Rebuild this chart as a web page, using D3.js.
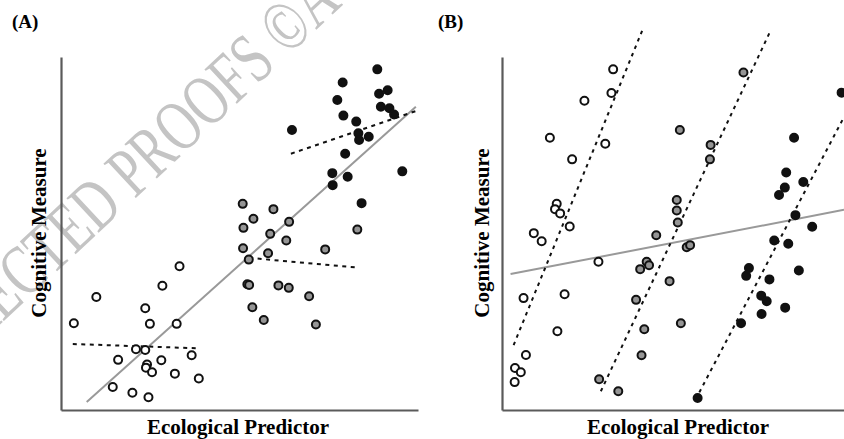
<!DOCTYPE html>
<html>
<head>
<meta charset="utf-8">
<script src="https://cdn.jsdelivr.net/npm/d3@7"></script>
<style>
  html, body { margin: 0; padding: 0; background: #fff; }
  svg { display: block; }
</style>
</head>
<body>
<script>
// ---------- DATA (arbitrary units, 0-100 on both axes) ----------
const panelLabels = ["(A)", "(B)"];
const xAxisLabel = "Ecological Predictor";
const yAxisLabel = "Cognitive Measure";
const watermarkText = "UNCORRECTED PROOFS ©";
const watermarkTail = " A";

// Panel A
const whiteA = [[3.6,24.6],[9.9,32.0],[23.6,28.8],[28.4,35.2],[33.2,40.7],[24.9,24.4],[32.4,24.4],
  [21.0,17.2],[23.6,17.0],[16.0,14.2],[24.1,12.9],[23.8,12.0],[25.5,10.7],[28.1,14.1],[36.6,15.5],
  [31.9,10.3],[38.6,8.9],[14.5,6.5],[20.0,4.9],[24.5,3.6]];
const grayA = [[50.9,58.4],[53.9,54.2],[59.5,56.9],[63.9,53.3],[51.1,51.6],[58.6,49.9],[63.1,48.0],
  [83.0,51.1],[51.0,45.8],[58.0,44.4],[74.0,45.5],[52.6,42.6],[52.2,35.6],[52.7,35.4],[60.9,35.3],
  [63.8,34.6],[69.5,32.2],[53.6,29.1],[56.8,25.5],[71.4,24.2]];
const blackA = [[88.6,96.5],[78.9,92.8],[89.1,89.6],[91.5,90.6],[77.4,87.8],[89.6,85.9],[92.0,85.5],
  [93.3,83.7],[79.1,83.4],[82.7,81.7],[64.7,79.3],[83.3,78.4],[86.2,77.4],[83.5,76.5],[79.6,72.6],
  [76.0,67.1],[80.3,66.1],[95.6,67.6],[76.1,63.7],[84.2,58.6]];
// fitted lines: [x0, y0, x1, y1]
const overallA = [7.2, 2.3, 99.4, 85.9];
const groupLinesA = [[3.3,18.7,37.8,17.5],[52.7,43.1,83.5,40.3],[64.4,72.6,99.4,84.7]];

// Panel B
const whiteB = [[32.5,96.5],[32.0,89.8],[24.1,87.6],[14.0,77.1],[30.2,75.4],[20.5,71.0],[16.0,58.4],
  [15.5,56.9],[17.0,55.7],[19.8,52.0],[9.3,50.1],[11.6,47.8],[28.2,42.0],[6.3,31.7],[18.3,32.8],
  [16.2,22.3],[7.0,15.6],[3.8,11.9],[5.5,10.7],[3.7,7.9]];
const grayB = [[70.6,95.6],[52.0,79.3],[61.0,75.1],[60.8,71.0],[51.1,59.5],[51.1,56.5],[51.4,53.1],
  [45.1,49.5],[54.0,46.1],[55.0,46.7],[42.3,42.0],[43.0,41.0],[40.4,39.9],[49.0,36.5],[39.2,31.2],
  [41.6,22.9],[52.3,24.6],[40.8,15.5],[28.4,8.7],[34.0,5.3]];
const blackB = [[99.3,89.9],[85.4,77.1],[83.1,67.3],[88.1,64.6],[82.7,63.0],[81.0,60.9],[85.8,55.2],
  [90.7,51.9],[79.6,48.0],[83.7,47.1],[72.2,40.2],[71.4,38.0],[78.2,37.0],[86.8,39.5],[75.8,32.4],
  [77.4,30.8],[82.8,29.0],[75.9,27.2],[69.9,24.6],[57.2,3.4]];
const overallB = [2.5, 38.5, 100, 56.7];
const groupLinesB = [[3.4,18.4,41.0,107.5],[28.9,5.3,78.4,107.2],[57.7,5.0,100,83.0]];

// ---------- DRAWING ----------
const W = 844, H = 439;
const FONT = "'Liberation Serif', 'Times New Roman', Times, serif";
const svg = d3.select("body").append("svg").attr("width", W).attr("height", H);

// watermark
const wm = svg.append("g").attr("transform", "translate(316,30) rotate(-43) scale(0.72,1)");
wm.append("text").attr("x", 0).attr("y", 0).attr("text-anchor", "end")
  .attr("font-family", FONT).attr("font-size", 72).attr("fill", "#c4c4c4")
  .text(watermarkText);
wm.append("text").attr("x", 0).attr("y", 0).attr("text-anchor", "start")
  .attr("font-family", FONT).attr("font-size", 72).attr("fill", "#c4c4c4")
  .text(watermarkTail);

const panels = [
  {label: panelLabels[0], labelX: 12, xr: [61, 418], yTitleX: 46, xTitleX: 238,
   white: whiteA, gray: grayA, black: blackA, overall: overallA, groups: groupLinesA, dash: "4,4.5"},
  {label: panelLabels[1], labelX: 438, xr: [502, 844], yTitleX: 489, xTitleX: 678,
   white: whiteB, gray: grayB, black: blackB, overall: overallB, groups: groupLinesB, dash: "3.5,4.5"}
];

panels.forEach(p => {
  const x = d3.scaleLinear().domain([0, 100]).range(p.xr);
  const y = d3.scaleLinear().domain([0, 100]).range([410, 57]);
  const g = svg.append("g");

  // axes (line only)
  const ax = g.append("g").attr("transform", `translate(0,410)`)
    .call(d3.axisBottom(x).ticks(0).tickSizeOuter(0));
  const ay = g.append("g").attr("transform", `translate(${p.xr[0]},0)`)
    .call(d3.axisLeft(y).ticks(0).tickSizeOuter(0));
  [ax, ay].forEach(a => a.select(".domain").attr("stroke", "#5a5a5a").attr("stroke-width", 2.2));

  // overall regression line
  g.append("line")
    .attr("x1", x(p.overall[0])).attr("y1", y(p.overall[1]))
    .attr("x2", x(p.overall[2])).attr("y2", y(p.overall[3]))
    .attr("stroke", "#999").attr("stroke-width", 2);

  // group regression lines (dashed)
  g.selectAll(".gl").data(p.groups).enter().append("line")
    .attr("x1", d => x(d[0])).attr("y1", d => y(d[1]))
    .attr("x2", d => x(d[2])).attr("y2", d => y(d[3]))
    .attr("stroke", "#111").attr("stroke-width", 2).attr("stroke-dasharray", p.dash);

  // points
  const sets = [
    {data: p.white, fill: "#fff", r: 4},
    {data: p.gray, fill: "#959595", r: 4},
    {data: p.black, fill: "#111", r: 4}
  ];
  sets.forEach(s => {
    g.selectAll(null).data(s.data).enter().append("circle")
      .attr("cx", d => x(d[0])).attr("cy", d => y(d[1])).attr("r", s.r)
      .attr("fill", s.fill).attr("stroke", "#111").attr("stroke-width", 2);
  });

  // texts
  g.append("text").attr("x", p.labelX).attr("y", 28)
    .attr("font-family", FONT).attr("font-weight", "bold").attr("font-size", 19)
    .text(p.label);
  g.append("text").attr("x", p.xTitleX).attr("y", 434).attr("text-anchor", "middle")
    .attr("font-family", FONT).attr("font-weight", "bold").attr("font-size", 21)
    .text(xAxisLabel);
  g.append("text").attr("transform", `translate(${p.yTitleX},233) rotate(-90)`)
    .attr("text-anchor", "middle")
    .attr("font-family", FONT).attr("font-weight", "bold").attr("font-size", 21)
    .text(yAxisLabel);
});
</script>
</body>
</html>
